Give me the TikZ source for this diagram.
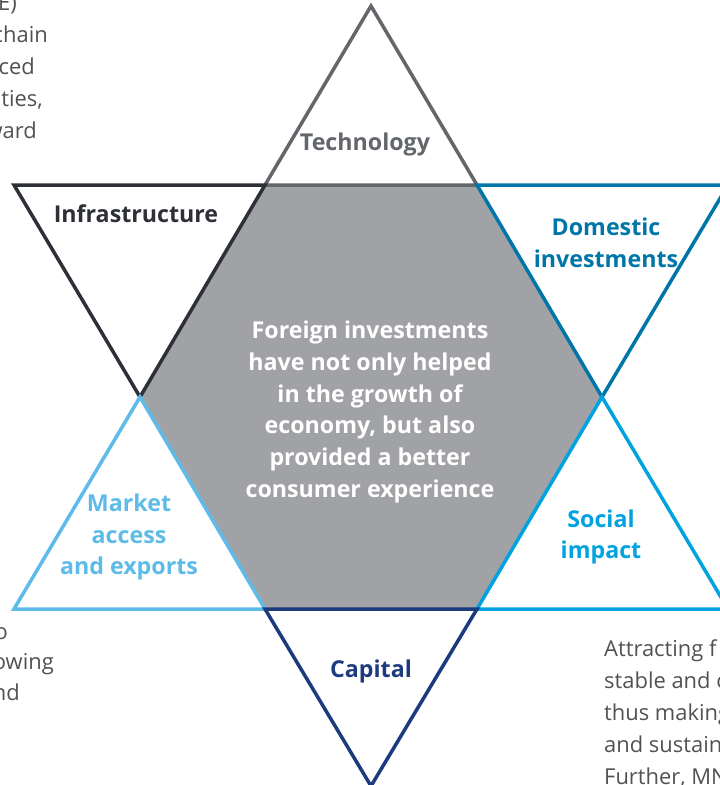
\documentclass[tikz,border=0pt]{standalone}
\usepackage{fontspec}
\setmainfont{Open Sans}
\usetikzlibrary{positioning}

\definecolor{techgray}{HTML}{63666A}
\definecolor{infradark}{HTML}{2E3038}
\definecolor{domblue}{HTML}{0076A8}
\definecolor{socblue}{HTML}{00A3E0}
\definecolor{capnavy}{HTML}{1C3A7E}
\definecolor{mktblue}{HTML}{5CBBE8}
\definecolor{hexgray}{HTML}{A0A2A6}
\definecolor{bodygray}{HTML}{505153}

\begin{document}
\begin{tikzpicture}[
        x=1bp, y=-1bp,
        tri/.style={line width=3.5bp, line join=miter},
        pillar/.style={font=\fontsize{23.3}{32}\selectfont\bfseries, align=center, inner sep=0pt},
        body/.style={font=\fontsize{22}{32}\selectfont, text=bodygray, anchor=mid west, inner sep=0pt, yshift=-5bp},
        bodyend/.style={body, anchor=mid east}
    ]
    \useasboundingbox (0,0) rectangle (720,785);
    \clip (0,0) rectangle (720,785);

    % Corners of the star
    \coordinate (top) at (371,6);
    \coordinate (tl) at (265,185);
    \coordinate (tr) at (477,185);
    \coordinate (r) at (602,397);
    \coordinate (br) at (477,609);
    \coordinate (bl) at (265,609);
    \coordinate (l) at (140,397);
    \coordinate (farTL) at (14,185);
    \coordinate (farTR) at (728,185);
    \coordinate (farBL) at (14,609);
    \coordinate (farBR) at (728,609);
    \coordinate (bottom) at (371,786);

    % Hexagon
    \fill[hexgray] (tl) -- (tr) -- (r) -- (br) -- (bl) -- (l) -- cycle;

    % Triangles
    \draw[tri, techgray] (top) -- (tr) -- (tl) -- cycle;
    \draw[tri, infradark] (farTL) -- (tl) -- (l) -- cycle;
    \draw[tri, domblue] (tr) -- (farTR) -- (r) -- cycle;
    \draw[tri, mktblue] (l) -- (bl) -- (farBL) -- cycle;
    \draw[tri, socblue] (r) -- (farBR) -- (br) -- cycle;
    \draw[tri, capnavy] (bl) -- (br) -- (bottom) -- cycle;

    % Labels
    \node (tech)[pillar, text=techgray] at (365,144) {Technology};
    \node (infra)[pillar, text=infradark] at (136,214) {Infrastructure};
    \node (domestic)[pillar, text=domblue] at (606,243) {Domestic\\investments};
    \node (market)[pillar, text=mktblue] at (129,537) {Market\\access\\and exports};
    \node (social)[pillar, text=socblue] at (601,537) {Social\\impact};
    \node (capital)[pillar, text=capnavy] at (371,671) {Capital};
    \node (core)[pillar, text=white] at (370,412) {Foreign investments\\
        have not only helped\\
        in the growth of\\
        economy, but also\\
        provided a better\\
        consumer experience};

    % Cut-off side text
    \node (ta)[bodyend] at (17,3) {E)};
    \node (tb)[bodyend] at (48,35) {chain};
    \node (tc)[bodyend] at (35,67) {ced};
    \node (td)[bodyend] at (43,99) {ties,};
    \node (te)[bodyend] at (37,131) {ward};

    \node (ba)[bodyend] at (8,632) {o};
    \node (bb)[bodyend] at (54,662) {owing};
    \node (bc)[bodyend] at (20,693) {nd};

    \node (ra)[body] at (604,649) {Attracting f};
    \node (rb)[body] at (604,681) {stable and c};
    \node (rc)[body] at (604,713) {thus making};
    \node (rd)[body] at (604,745) {and sustain};
    \node (re)[body] at (604,777) {Further, MN};

\end{tikzpicture}
\end{document}
